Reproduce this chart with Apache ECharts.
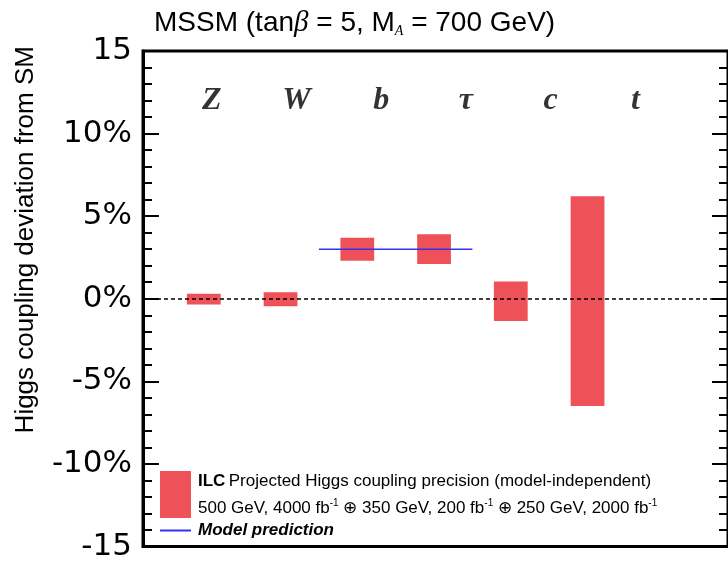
<!DOCTYPE html>
<html>
<head>
<meta charset="utf-8">
<script src="https://cdn.jsdelivr.net/npm/echarts@6/dist/echarts.min.js"></script>
<style>html,body{margin:0;padding:0;background:#fff}#c{width:728px;height:562px}</style>
</head>
<body>
<div id="c"></div>
<script>
// ---- data ----
var categories = ['Z', 'W', 'b', 'τ', 'c', 't'];
var upperDev = [0.3, 0.4, 3.7, 3.9, 1.05, 6.2];   // % upper edge of precision band
var lowerDev = [-0.35, -0.45, 2.3, 2.1, -1.35, -6.5]; // % lower edge
var modelPrediction = [[2.5, 3.0], [4.5, 3.0]];   // x in category units, y in %
var yTicks = [-15, -10, -5, 0, 5, 10, 15];

// ---- layout constants ----
var X_MIN = 0.208, X_MAX = 7.83;
var LABEL_STEP = 1.104, LABEL_Y = 12;
var RED = '#ee5157', BLUE = '#3333ee';

var bandData = categories.map(function (c, i) { return [i + 1, lowerDev[i], upperDev[i]]; });
var labelData = categories.map(function (c, i) { return { value: [(i + 1) * LABEL_STEP, LABEL_Y], name: c }; });

var chart = echarts.init(document.getElementById('c'), null, { renderer: 'canvas' });
var font = 'Liberation Sans, Arial, Helvetica, sans-serif';
var wide = 'DejaVu Sans, Liberation Sans, sans-serif';
var serif = 'Liberation Serif, Times New Roman, serif';

chart.setOption({
  animation: false,
  backgroundColor: '#fff',
  title: {
    text: 'MSSM (tan{i|β} = 5, M{sub|A} = 700 GeV)',
    left: 149, top: 3,
    textStyle: {
      fontFamily: font, fontSize: 28, fontWeight: 'normal', color: '#000',
      rich: {
        i: { fontFamily: serif, fontStyle: 'italic', fontSize: 29, color: '#000' },
        sub: { fontFamily: serif, fontStyle: 'italic', fontSize: 14, color: '#000', padding: [16, 0, 0, 0] }
      }
    }
  },
  grid: { left: 143, top: 51, width: 587, height: 497, show: true, borderColor: '#000', borderWidth: 3, backgroundColor: 'transparent' },
  legend: [{
    left: 160, top: 471, orient: 'vertical', padding: 0,
    itemWidth: 31, itemHeight: 47, itemGap: 0,
    data: [{ name: 'ILC', icon: 'rect' }],
    formatter: function () {
      return '{b|ILC} {n|Projected Higgs coupling precision (model-independent)}\n' +
        '{n|500 GeV, 4000 fb}{s|-1}{n| ⊕ 350 GeV, 200 fb}{s|-1}{n| ⊕ 250 GeV, 2000 fb}{s|-1}';
    },
    textStyle: {
      fontFamily: font, color: '#000', padding: [0, 0, 0, 2],
      rich: {
        b: { fontFamily: font, fontSize: 17, fontWeight: 'bold', lineHeight: 27 },
        n: { fontFamily: font, fontSize: 17, lineHeight: 27 },
        s: { fontFamily: font, fontSize: 10, lineHeight: 27, padding: [0, 0, 10, 0] }
      }
    },
    selectedMode: false
  }, {
    left: 160, top: 522, orient: 'vertical', padding: 0,
    itemWidth: 31, itemHeight: 2, itemGap: 0,
    data: [{ name: 'Model prediction', icon: 'rect' }],
    textStyle: { fontFamily: font, fontSize: 17, fontWeight: 'bold', fontStyle: 'italic', color: '#000', padding: [0, 0, 0, 2] },
    selectedMode: false
  }],
  xAxis: {
    type: 'value', min: X_MIN, max: X_MAX,
    show: false, splitLine: { show: false }
  },
  yAxis: [{
    type: 'value', min: -15, max: 15, interval: 5,
    name: 'Higgs coupling deviation from SM',
    nameLocation: 'middle', nameRotate: 90, nameGap: 104,
    nameTextStyle: { fontFamily: font, fontSize: 26, color: '#000', padding: [0, 0, 0, 118] },
    axisLine: { show: true, lineStyle: { color: '#000', width: 3 } },
    axisTick: { show: true, inside: true, length: 16, lineStyle: { color: '#000', width: 2 } },
    minorTick: { show: true, splitNumber: 5, length: 9, lineStyle: { color: '#000', width: 2 } },
    splitLine: { show: false },
    axisLabel: {
      margin: 11, fontFamily: wide, fontSize: 31, color: '#000',
      formatter: function (v) { return Math.abs(v) === 15 ? String(v) : v + '%'; }
    }
  }, {
    type: 'value', min: -15, max: 15, interval: 5, position: 'right',
    axisLine: { show: true, lineStyle: { color: '#000', width: 3 } },
    axisTick: { show: true, inside: true, length: 16, lineStyle: { color: '#000', width: 2 } },
    minorTick: { show: true, splitNumber: 5, length: 9, lineStyle: { color: '#000', width: 2 } },
    splitLine: { show: false },
    axisLabel: { show: false }
  }],
  series: [{
    name: 'ILC',
    type: 'custom',
    itemStyle: { color: RED },
    data: bandData,
    encode: { x: 0, y: [1, 2] },
    renderItem: function (params, api) {
      var x = api.value(0), lo = api.value(1), hi = api.value(2);
      var p1 = api.coord([x, hi]), p2 = api.coord([x, lo]);
      var w = api.size([0.44, 0])[0];
      return {
        type: 'rect',
        shape: { x: p1[0] - w / 2, y: p1[1], width: w, height: p2[1] - p1[1] },
        style: { fill: RED }
      };
    },
    markLine: {
      silent: true, symbol: 'none', label: { show: false },
      lineStyle: { color: '#000', type: [4, 3], width: 1.6 },
      data: [{ yAxis: 0 }]
    },
    z: 2
  }, {
    name: 'Model prediction',
    type: 'line',
    data: modelPrediction,
    symbol: 'none',
    lineStyle: { color: BLUE, width: 1.6 },
    itemStyle: { color: BLUE },
    z: 3
  }, {
    name: 'labels',
    type: 'scatter',
    data: labelData,
    symbolSize: 0,
    label: {
      show: true, position: 'inside',
      formatter: function (p) { return p.name; },
      fontFamily: serif,
      fontStyle: 'italic', fontWeight: 'bold', fontSize: 32, color: '#000'
    },
    z: 4
  }]
});
</script>
</body>
</html>
